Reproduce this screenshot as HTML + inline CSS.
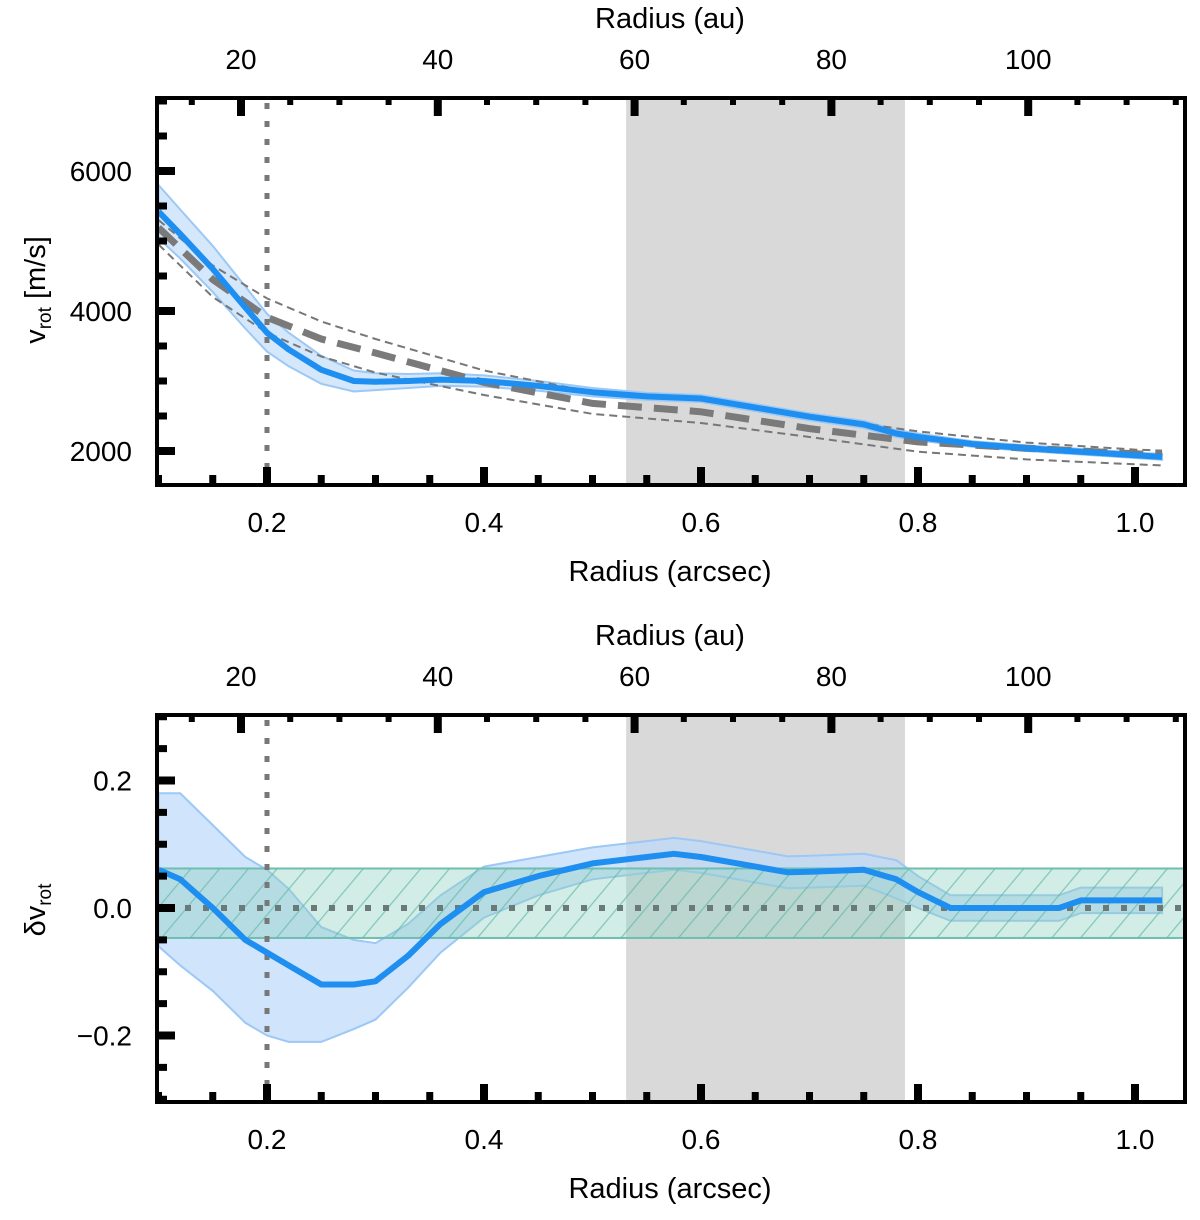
<!DOCTYPE html>
<html><head><meta charset="utf-8">
<style>
body{margin:0;background:#fff;}
svg text{font-family:"Liberation Sans",sans-serif;fill:#000;}
</style></head>
<body>
<svg id="chart" width="1200" height="1215" xmlns="http://www.w3.org/2000/svg">
<defs>
<pattern id="hatch" width="22" height="22" patternUnits="userSpaceOnUse" patternTransform="rotate(40)">
<line x1="0" y1="0" x2="0" y2="22" stroke="#5fb8a8" stroke-width="2.5"/>
</pattern>
</defs>
</svg>
<script>
// ---- data ----
const vR    = [0.10,0.12,0.15,0.18,0.20,0.22,0.25,0.28,0.30,0.33,0.36,0.40,0.45,0.50,0.55,0.60,0.65,0.70,0.75,0.78,0.80,0.85,0.90,0.95,1.00,1.025];
const vRot  = [5420,5100,4600,4050,3690,3450,3160,3000,2990,3000,3020,3000,2930,2840,2780,2750,2620,2490,2380,2250,2200,2100,2040,1990,1940,1915];
const vErr  = [380,350,330,300,270,240,200,150,120,100,90,80,70,60,50,50,50,50,50,50,50,40,40,40,40,40];
const mR    = [0.10,0.15,0.20,0.25,0.30,0.40,0.50,0.60,0.70,0.80,0.90,1.00,1.025];
const mMid  = [5190,4450,3910,3600,3400,2980,2680,2560,2320,2130,2040,1960,1945];
const mUp   = [5300,4650,4180,3850,3600,3150,2840,2720,2500,2280,2120,2020,2005];
const mLo   = [4950,4200,3690,3350,3120,2800,2530,2400,2200,1990,1880,1810,1795];
const dR    = [0.10,0.12,0.15,0.18,0.20,0.22,0.25,0.28,0.30,0.33,0.36,0.40,0.45,0.50,0.55,0.575,0.60,0.65,0.68,0.70,0.75,0.78,0.80,0.83,0.88,0.93,0.95,1.00,1.025];
const dV    = [0.06,0.045,0.0,-0.05,-0.07,-0.09,-0.12,-0.12,-0.115,-0.075,-0.025,0.025,0.05,0.07,0.08,0.085,0.08,0.065,0.056,0.057,0.06,0.045,0.025,0.0,0.0,0.0,0.012,0.012,0.012];
const dErr  = [0.12,0.135,0.13,0.13,0.13,0.12,0.09,0.07,0.06,0.05,0.045,0.04,0.03,0.025,0.025,0.025,0.025,0.025,0.025,0.025,0.025,0.03,0.025,0.02,0.02,0.02,0.02,0.02,0.02];
const shadeBand = [0.531,0.788];
const beamR = 0.2;
const noiseBand = [0.062,-0.047];
const vTicks = [2000,4000,6000];
const dTicks = [-0.2,0.0,0.2];
const dTickLabels = ["\u22120.2","0.0","0.2"];
const xTicks = [0.2,0.4,0.6,0.8,1.0];
const auTicks = [20,40,60,80,100];

const svg = document.getElementById('chart');
const NS = 'http://www.w3.org/2000/svg';
function el(tag, attrs, parent){const e=document.createElementNS(NS,tag);for(const k in attrs)e.setAttribute(k,attrs[k]);(parent||svg).appendChild(e);return e;}

const L=157,R=1185;
const X = r => 158.5 + (r-0.1)*1085;
const XAU = a => 241 + (a-20)*9.84;

function panel(name){
  const g = el('g',{});
  
  
  return g;
}
function lineFrom(xs,ys,Y){return xs.map((r,i)=>(i?'L':'M')+X(r).toFixed(1)+','+Y(ys[i]).toFixed(1)).join('');}
function bandFrom(xs,ys,es,Y){
  let d=xs.map((r,i)=>(i?'L':'M')+X(r).toFixed(1)+','+Y(ys[i]+es[i]).toFixed(1)).join('');
  for(let i=xs.length-1;i>=0;i--) d+='L'+X(xs[i]).toFixed(1)+','+Y(ys[i]-es[i]).toFixed(1);
  return d+'Z';
}
function frameAndTicks(g,top,bottom,Y,yMajor,yMinorStep,yMin,yMax,labels){
  for(let r=0.1;r<=1.021;r+=0.05){
    const maj = xTicks.some(t=>Math.abs(t-r)<1e-6);
    const x=X(r); if(x<L||x>R) continue;
    const t=el('rect',{x:x-(maj?4:3.5),y:bottom-(maj?18:10),width:maj?8:7,height:maj?18:10,fill:'#000'},g);
     
  }
  for(let a=10;a<=115;a+=5){
    const maj = auTicks.includes(a);
    const x=XAU(a); if(x<L||x>R) continue;
    const t=el('rect',{x:x-(maj?4:3),y:top,width:maj?8:6,height:maj?18:7,fill:'#000'},g);
     
  }
  for(let v=yMin;v<=yMax+1e-9;v+=yMinorStep){
    const maj = yMajor.some(t=>Math.abs(t-v)<1e-6);
    const y=Y(v); if(y<top||y>bottom) continue;
    const t=el('rect',{x:L,y:y-(maj?4:3.5),width:maj?18:10,height:maj?8:7,fill:'#000'},g);
     
  }
  const f=el('rect',{x:L,y:top,width:R-L,height:bottom-top,fill:'none',stroke:'#000','stroke-width':4},g);
   
  yMajor.forEach((v,i)=>{
    const t=el('text',{x:L-25,y:Y(v)+10,'font-size':28,'text-anchor':'end'},g);
    t.textContent=labels[i];
     
  });
  xTicks.forEach(v=>{
    const t=el('text',{x:X(v),y:bottom+47,'font-size':28,'text-anchor':'middle'},g);
    t.textContent=v.toFixed(1);
     
  });
  auTicks.forEach(v=>{
    const t=el('text',{x:XAU(v),y:top-29,'font-size':28,'text-anchor':'middle'},g);
    t.textContent=v;
     
  });
  const xt=el('text',{x:670,y:bottom+96,'font-size':29,'text-anchor':'middle'},g);
  xt.textContent='Radius (arcsec)';
   
  const at=el('text',{x:670,y:top-70,'font-size':29,'text-anchor':'middle'},g);
  at.textContent='Radius (au)';
   
}

// ---- top panel ----
{
  const top=98,bottom=485;
  const Y = v => 451 - (v-2000)*0.07;
  const g=panel('velocity-panel');
  const s=el('rect',{x:X(shadeBand[0]),y:top,width:X(shadeBand[1])-X(shadeBand[0]),height:bottom-top,fill:'#d9d9d9'},g);
   
  const b=el('path',{d:bandFrom(vR,vRot,vErr,Y),fill:'#cfe4fb',stroke:'#9cc8f5','stroke-width':2,'fill-opacity':0.9},g);
   
  const up=el('path',{d:lineFrom(mR,mUp,Y),fill:'none',stroke:'#777','stroke-width':2,'stroke-dasharray':'8,5'},g);
   
  const lo=el('path',{d:lineFrom(mR,mLo,Y),fill:'none',stroke:'#777','stroke-width':2,'stroke-dasharray':'8,5'},g);
   
  const mid=el('path',{d:lineFrom(mR,mMid,Y),fill:'none',stroke:'#7a7a7a','stroke-width':7,'stroke-dasharray':'24,12'},g);
   
  const vl=el('line',{x1:X(beamR),x2:X(beamR),y1:top+5,y2:bottom,stroke:'#777','stroke-width':5,'stroke-dasharray':'6,12'},g);
   
  const c=el('path',{d:lineFrom(vR,vRot,Y),fill:'none',stroke:'#1e8ff0','stroke-width':6,'stroke-linejoin':'round'},g);
   
  frameAndTicks(g,top,bottom,Y,vTicks,500,1500,7000,vTicks.map(String));
  const yt=el('text',{x:0,y:0,'font-size':29,'text-anchor':'middle',transform:'translate(45,290) rotate(-90)'},g);
  yt.innerHTML='v<tspan font-size="19" dy="6">rot</tspan><tspan dy="-6"> [m/s]</tspan>';
   
}

// ---- bottom panel ----
{
  const top=715,bottom=1102;
  const Y = v => 908 - v*637.5;
  const g=panel('residual-panel');
  const s=el('rect',{x:X(shadeBand[0]),y:top,width:X(shadeBand[1])-X(shadeBand[0]),height:bottom-top,fill:'#d9d9d9'},g);
   
  const b=el('path',{d:bandFrom(dR,dV,dErr,Y),fill:'#bcd9fa',stroke:'#9cc8f5','stroke-width':2,'fill-opacity':0.7},g);
   
  const nb=el('rect',{x:L,y:Y(noiseBand[0]),width:R-L,height:Y(noiseBand[1])-Y(noiseBand[0]),fill:'#8fcfc1','fill-opacity':0.4,stroke:'#6fbfb0','stroke-width':2},g);
   
  const nh=el('rect',{x:L,y:Y(noiseBand[0]),width:R-L,height:Y(noiseBand[1])-Y(noiseBand[0]),fill:'url(#hatch)','fill-opacity':0.7},g);
   
  const zl=el('line',{x1:L+10,x2:R,y1:Y(0),y2:Y(0),stroke:'#6a7a78','stroke-width':6,'stroke-dasharray':'6,12'},g);
   
  const vl=el('line',{x1:X(beamR),x2:X(beamR),y1:top+5,y2:bottom,stroke:'#777','stroke-width':5,'stroke-dasharray':'6,12'},g);
   
  const c=el('path',{d:lineFrom(dR,dV,Y),fill:'none',stroke:'#1e8ff0','stroke-width':6,'stroke-linejoin':'round'},g);
   
  frameAndTicks(g,top,bottom,Y,dTicks,0.05,-0.3,0.3,dTickLabels);
  const yt=el('text',{x:0,y:0,'font-size':29,'text-anchor':'middle',transform:'translate(45,910) rotate(-90)'},g);
  yt.innerHTML='\u03B4v<tspan font-size="19" dy="6">rot</tspan>';
   
}
</script>
</body></html>
